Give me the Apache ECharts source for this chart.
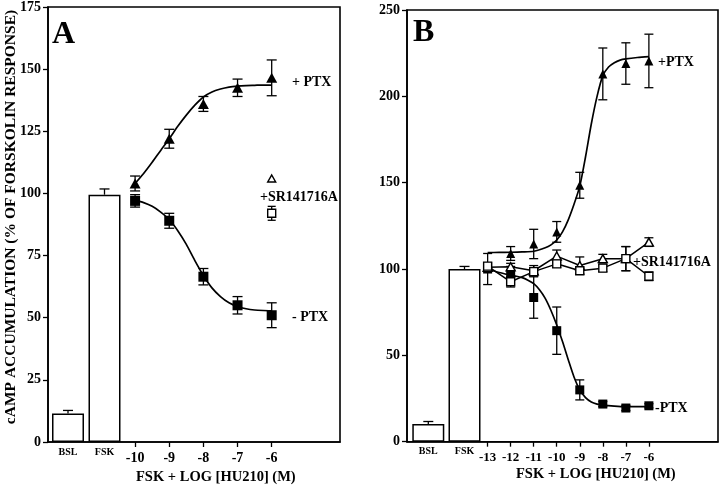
<!DOCTYPE html>
<html>
<head>
<meta charset="utf-8">
<script src="https://cdn.jsdelivr.net/npm/echarts@6/dist/echarts.min.js"></script>
<style>
  html, body { margin: 0; padding: 0; background: #fff; }
  #chart { width: 720px; height: 486px; }
</style>
</head>
<body>
<div id="chart"></div>
<script>
// ---- data ----
const barCats = ['BSL', 'FSK'];

// panel A
const barA = [11.5, 99.5];
const barErrA = [1.2, 2.3];
const doseA = [-10, -9, -8, -7, -6];
const plusPtxA = [104, 122, 136, 142.5, 146.5];
const plusPtxErrA = [3, 3.8, 3, 3.5, 7.2];
const minusPtxA = [97, 89, 66.5, 55, 51];
const minusPtxErrA = [2.5, 3, 3.3, 3.5, 5];
const srDoseA = [-6];
const srTriA = [106];
const srSqA = [92];
const srSqErrA = [2.8];
// fitted curves
const fitXA = [-10, -9.75, -9.5, -9.25, -9, -8.75, -8.5, -8.25, -8, -7.75, -7.5, -7.25, -7, -6.75, -6.5, -6.25, -6];
const fitPlusA = [104, 108, 112.5, 117.3, 122, 127, 131.5, 135.5, 138.8, 140.8, 142, 142.8, 143.2, 143.4, 143.5, 143.6, 143.6];
const fitMinusA = [97.3, 96.3, 94.8, 92.5, 89.5, 85, 79.5, 73, 67, 62, 58.5, 56, 54.5, 53.6, 53.1, 52.9, 52.8];
const ticksA = [-10, -9, -8, -7, -6];

// panel B
const barB = [10.2, 100];
const barErrB = [1.5, 1.5];
const doseB = [-13, -12, -11, -10, -9, -8, -7, -6];
const plusPtxDoseB = [-12, -11, -10, -9, -8, -7, -6];
const plusPtxB = [109, 114.5, 121.5, 148.5, 213, 219, 220.5];
const plusPtxErrB = [4, 8.5, 6, 7.5, 15, 12, 15.5];
const minusPtxB = [100, 97.5, 83.5, 64.3, 30, 21.8, 19.5, 20.8];
const minusPtxErrB = [9, 4, 12, 13.7, 5.8, 1.5, 1.5, 1.2];
const srTriB = [101, 101.3, 99, 107.5, 102, 106, 106, 115.6];
const srTriErrB = [2, 2, 3, 3.5, 5, 2.5, 7, 2.5];
const srSqB = [101.7, 92.6, 98.5, 103, 99, 100.5, 106, 95.8];
const srSqErrB = [2, 3, 2, 2, 2, 2, 7, 2.5];
const fitXPlusB = [-13, -12.5, -12, -11.5, -11, -10.5, -10.25, -10, -9.75, -9.5, -9.25, -9,
  -8.75, -8.5, -8.25, -8, -7.75, -7.5, -7.25, -7, -6.5, -6];
const fitPlusB = [109.5, 109.6, 109.7, 109.9, 110.3, 112.3, 114, 116.8, 121.5, 128.5, 137.5, 148,
  165, 184, 200, 212, 217, 219.5, 221, 221.7, 222.5, 223];
const fitXMinusB = [-13, -12.5, -12, -11.75, -11.5, -11.25, -11, -10.75, -10.5, -10.25, -10, -9.75,
  -9.5, -9.25, -9, -8.75, -8.5, -8.25, -8, -7.5, -7, -6.5, -6];
const fitMinusB = [100, 98, 96.5, 95.8, 95, 93.5, 91.5, 88, 83, 76, 67.6, 58,
  47.5, 37.5, 30, 25.5, 23, 21.8, 21.2, 20.6, 20.3, 20.3, 20.3];
const ticksB = [-13, -12, -11, -10, -9, -8, -7, -6];

// ---- helpers ----
const FONT = '"Liberation Serif", "Times New Roman", serif';
const zip = (xs, ys, es) => xs.map((x, i) => es ? [x, ys[i], es[i]] : [x, ys[i]]);

function errBars(xi, yi, data, capHalf, upOnly) {
  return {
    type: 'custom',
    xAxisIndex: xi,
    yAxisIndex: yi,
    z: 3,
    data: data,
    renderItem: function (params, api) {
      const x = api.value(0), y = api.value(1), e = api.value(2);
      const hi = api.coord([x, y + e]);
      const lo = api.coord([x, upOnly ? y : y - e]);
      const style = { stroke: '#000', lineWidth: 1.3 };
      const kids = [
        { type: 'line', shape: { x1: hi[0], y1: hi[1], x2: lo[0], y2: lo[1] }, style: style },
        { type: 'line', shape: { x1: hi[0] - capHalf, y1: hi[1], x2: hi[0] + capHalf, y2: hi[1] }, style: style },
      ];
      if (!upOnly) {
        kids.push({ type: 'line', shape: { x1: lo[0] - capHalf, y1: lo[1], x2: lo[0] + capHalf, y2: lo[1] }, style: style });
      }
      return { type: 'group', children: kids };
    },
  };
}

function fit(xi, yi, pts) {
  return {
    type: 'line', xAxisIndex: xi, yAxisIndex: yi, data: pts,
    showSymbol: false, smooth: 0.25, z: 2,
    lineStyle: { color: '#000', width: 1.7 },
  };
}

function marks(xi, yi, data, symbol, size, filled) {
  return {
    type: 'scatter', xAxisIndex: xi, yAxisIndex: yi, data: data,
    symbol: symbol, symbolSize: size, z: 5,
    itemStyle: { color: filled ? '#000' : '#fff', borderColor: '#000', borderWidth: filled ? 0 : 1.4, opacity: 1 },
  };
}

function valueX(grid, min, max, ticks, fontSize) {
  return {
    gridIndex: grid, type: 'value', min: min, max: max,
    axisLine: { show: true, lineStyle: { color: '#000', width: 1.6 } },
    axisTick: { show: true, customValues: ticks, length: 5, lineStyle: { color: '#000', width: 1.3 } },
    axisLabel: { customValues: ticks, color: '#000', fontFamily: FONT, fontWeight: 'bold', fontSize: fontSize, margin: 9 },
    splitLine: { show: false },
  };
}

function catX(grid) {
  return {
    gridIndex: grid, type: 'category', data: barCats,
    axisLine: { show: false }, axisTick: { show: false },
    axisLabel: { color: '#000', fontFamily: FONT, fontWeight: 'bold', fontSize: 10, margin: 5 },
  };
}

function valueY(grid, max, interval, show) {
  return {
    gridIndex: grid, type: 'value', min: 0, max: max, interval: interval, show: show,
    axisLine: { show: true, lineStyle: { color: '#000', width: 1.6 } },
    axisTick: { show: true, length: 5, lineStyle: { color: '#000', width: 1.3 } },
    axisLabel: { color: '#000', fontFamily: FONT, fontWeight: 'bold', fontSize: 14, margin: 7 },
    splitLine: { show: false },
  };
}

function bars(xi, yi, vals) {
  return {
    type: 'bar', xAxisIndex: xi, yAxisIndex: yi, data: vals, barWidth: 32, z: 2,
    itemStyle: { color: '#fff', borderColor: '#000', borderWidth: 1.5 },
  };
}

function note(text, x, y, size, rot) {
  return {
    type: 'text', x: x, y: y, rotation: rot || 0,
    style: {
      text: text, fill: '#000', fontFamily: FONT, fontWeight: 'bold', fontSize: size,
      align: rot ? 'center' : 'left', verticalAlign: 'middle',
    },
  };
}

const chart = echarts.init(document.getElementById('chart'), null, { renderer: 'canvas' });

chart.setOption({
  animation: false,
  backgroundColor: '#fff',
  grid: [
    { left: 48, top: 7, width: 292, height: 435, show: true, borderColor: '#000', borderWidth: 1.6 },
    { left: 49.75, top: 7, width: 73, height: 435 },
    { left: 407, top: 10, width: 311, height: 431.7, show: true, borderColor: '#000', borderWidth: 1.6 },
    { left: 410.2, top: 10, width: 72.4, height: 431.7 },
  ],
  xAxis: [
    valueX(0, -12.55, -4, ticksA, 14),
    catX(1),
    valueX(2, -16.5, -3, ticksB, 13),
    catX(3),
  ],
  yAxis: [
    valueY(0, 175, 25, true),
    valueY(1, 175, 25, false),
    valueY(2, 250, 50, true),
    valueY(3, 250, 50, false),
  ],
  graphic: [
    note('cAMP ACCUMULATION (% OF FORSKOLIN RESPONSE)', 11, 217, 15.5, Math.PI / 2),
    note('A', 52, 35, 32),
    note('+ PTX', 292, 82, 14),
    note('+SR141716A', 260, 197, 14),
    note('- PTX', 292, 317, 14),
    note('FSK + LOG [HU210] (M)', 136, 477, 14.5),
    note('B', 413, 33, 32),
    note('+PTX', 658, 62, 14),
    note('+SR141716A', 633, 262, 14),
    note('-PTX', 655, 408, 14),
    note('FSK + LOG [HU210] (M)', 516, 474, 14.5),
  ],
  series: [
    // panel A
    bars(1, 1, barA),
    errBars(1, 1, zip([0, 1], barA, barErrA), 5, true),
    fit(0, 0, zip(fitXA, fitPlusA)),
    fit(0, 0, zip(fitXA, fitMinusA)),
    errBars(0, 0, zip(doseA, plusPtxA, plusPtxErrA), 5, false),
    errBars(0, 0, zip(doseA, minusPtxA, minusPtxErrA), 5, false),
    errBars(0, 0, zip(srDoseA, srSqA, srSqErrA), 4, false),
    marks(0, 0, zip(doseA, plusPtxA), 'triangle', [11, 10], true),
    marks(0, 0, zip(doseA, minusPtxA), 'rect', 10, true),
    marks(0, 0, zip(srDoseA, srTriA), 'triangle', [8, 7], false),
    marks(0, 0, zip(srDoseA, srSqA), 'rect', 8, false),
    // panel B
    bars(3, 3, barB),
    errBars(3, 3, zip([0, 1], barB, barErrB), 5, true),
    fit(2, 2, zip(fitXPlusB, fitPlusB)),
    fit(2, 2, zip(fitXMinusB, fitMinusB)),
    {
      type: 'line', xAxisIndex: 2, yAxisIndex: 2, data: zip(doseB, srTriB), z: 2,
      showSymbol: false, lineStyle: { color: '#000', width: 1.5 },
    },
    {
      type: 'line', xAxisIndex: 2, yAxisIndex: 2, data: zip(doseB, srSqB), z: 2,
      showSymbol: false, lineStyle: { color: '#000', width: 1.5 },
    },
    errBars(2, 2, zip(plusPtxDoseB, plusPtxB, plusPtxErrB), 4.5, false),
    errBars(2, 2, zip(doseB, minusPtxB, minusPtxErrB), 4.5, false),
    errBars(2, 2, zip(doseB, srTriB, srTriErrB), 4.5, false),
    errBars(2, 2, zip(doseB, srSqB, srSqErrB), 4.5, false),
    marks(2, 2, zip(plusPtxDoseB, plusPtxB), 'triangle', [9, 9], true),
    marks(2, 2, zip(doseB, minusPtxB), 'rect', 9, true),
    marks(2, 2, zip(doseB, srTriB), 'triangle', [9, 8], false),
    marks(2, 2, zip(doseB, srSqB), 'rect', 8, false),
  ],
});
</script>
</body>
</html>
